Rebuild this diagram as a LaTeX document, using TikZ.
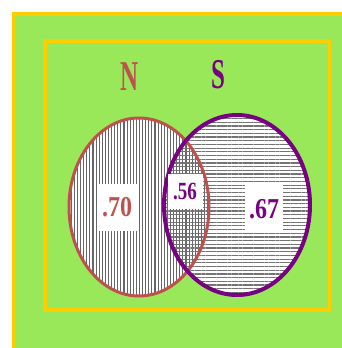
\documentclass[tikz,border=0pt]{standalone}
\usepackage{fontspec}
\setmainfont{Liberation Serif}
\usetikzlibrary{patterns.meta}
\definecolor{venngreen}{RGB}{152,232,90}
\definecolor{frameyellow}{RGB}{255,204,0}
\definecolor{setred}{RGB}{192,80,77}
\definecolor{setpurple}{RGB}{120,0,130}

\begin{document}
\begin{tikzpicture}[x=1pt, y=-1pt,
    frame/.style={draw=frameyellow, line width=3.5pt},
    setlabel/.style={inner sep=0pt, font=\bfseries\fontsize{25}{25}\selectfont},
    valbox/.style={
        fill=white, inner sep=0pt,
        minimum width=39pt, minimum height=47pt,
        font=\bfseries\fontsize{24}{24}\selectfont
    },
    vfill/.style={pattern={Lines[angle=90,distance=3.1pt,line width=1.1pt]}, pattern color=black!60},
    hfill/.style={pattern={Lines[angle=0,distance=3.7pt,line width=1.2pt]}, pattern color=black!55}
]
\useasboundingbox (0,0) rectangle (342,348);
\fill[white] (0,0) rectangle (342,348);
\fill[venngreen] (12,12) rectangle (342,348);
\draw[frame] (13.75,348) -- (13.75,13.75) -- (342,13.75);
\draw[frame] (45,41) rectangle (329.5,310);

\coordinate (cN) at (139,207);
\coordinate (cS) at (237,205);

\fill[white] (cN) ellipse [x radius=70, y radius=89];
\fill[white] (cS) ellipse [x radius=73, y radius=90];
\fill[vfill] (cN) ellipse [x radius=70, y radius=89];
\fill[hfill] (cS) ellipse [x radius=73, y radius=90];
\draw[setred, line width=3pt] (cN) ellipse [x radius=70, y radius=89];
\draw[setpurple, line width=4pt] (cS) ellipse [x radius=73, y radius=90];

\node[setlabel, text=setred] (nlabel) at (130,77) {\scalebox{1}[1.7]{N}};
\node[setlabel, text=setpurple] (slabel) at (218,75) {\scalebox{1}[1.7]{S}};

\node[valbox, text=setred] (vN) at (117,207) {\scalebox{1}[1.2]{.70}};
\node[valbox, text=setpurple, minimum width=35pt, minimum height=35pt,
      font=\bfseries\fontsize{19}{19}\selectfont] (vNS) at (185,191) {\scalebox{1}[1.3]{.56}};
\node[valbox, text=setpurple, minimum width=38pt, minimum height=48pt] (vS) at (264,209) {\scalebox{1}[1.2]{.67}};
\end{tikzpicture}
\end{document}
